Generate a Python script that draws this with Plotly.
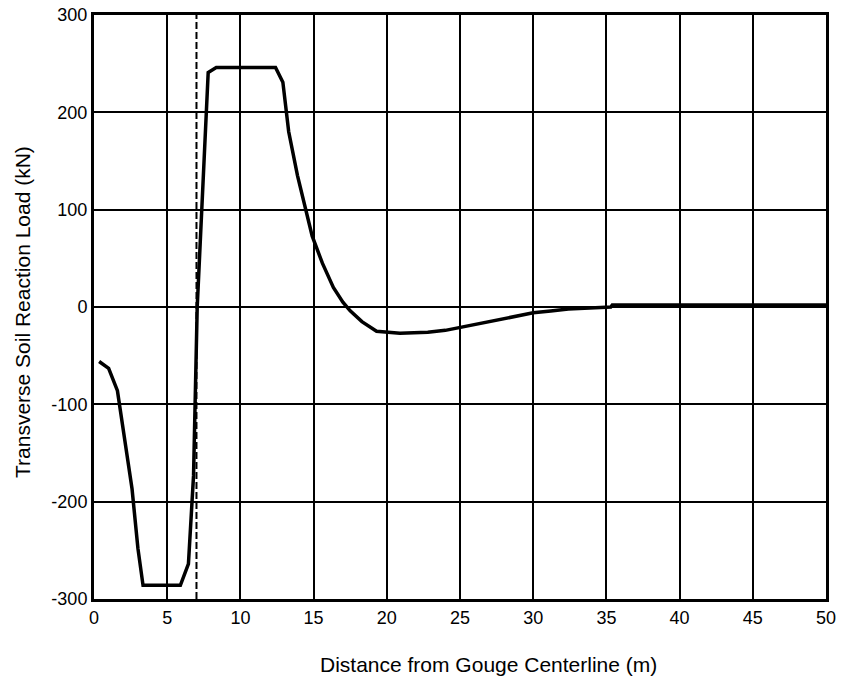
import plotly.graph_objects as go

# Data
distance_m = [0.35, 1.0, 1.6, 2.1, 2.6, 3.0, 3.35, 4.5, 5.9, 6.45, 6.8, 7.05, 7.4, 7.8, 8.35,
              10.0, 12.4, 12.9, 13.3, 13.9, 14.9, 15.6, 16.35, 17.0, 17.5, 18.3, 19.3, 20.9,
              22.8, 24.0, 25.0, 26.0, 27.3, 28.5, 30.0, 31.2, 32.4, 34.6, 35.3, 35.4, 40.0, 45.0, 50.0]
load_kN = [-56, -63, -86, -135, -187, -248, -286, -286, -286, -264, -173, 0, 120, 241, 246,
           246, 246, 231, 180, 135, 73, 45, 20, 5, -4, -15, -25, -27,
           -26, -24, -21, -18, -14, -10, -6, -4, -2, -0.5, 0, 2, 2, 2, 2]
marker_x = 7.0
y_ticks = [-300, -200, -100, 0, 100, 200, 300]
y_tick_labels = ["-300", "-200", "-100", "0", "100", "200", "300"]
x_ticks = [0, 5, 10, 15, 20, 25, 30, 35, 40, 45, 50]
x_title = "Distance from Gouge Centerline (m)"
y_title = "Transverse Soil Reaction Load (kN)"

fig = go.Figure()
fig.add_trace(go.Scatter(x=distance_m, y=load_kN, mode="lines",
                         line=dict(color="black", width=3.5), showlegend=False, cliponaxis=False))
fig.add_trace(go.Scatter(x=[marker_x, marker_x], y=[-300, 300], mode="lines",
                         line=dict(color="black", width=2, dash="7px,3px"), showlegend=False))

tick_font = dict(family="Liberation Sans, Arial", size=18, color="black")
title_font = dict(family="Liberation Sans, Arial", size=21, color="black")
axis_common = dict(showline=True, linecolor="black", linewidth=3, mirror=True,
                   showgrid=True, gridcolor="black", gridwidth=1.6, zeroline=False,
                   ticks="", tickfont=tick_font, automargin=False,
                   ticklabeloverflow="allow")

fig.update_layout(
    template="none",
    width=842, height=683,
    margin=dict(l=94, r=16, t=15, b=84),
    paper_bgcolor="white", plot_bgcolor="white",
    showlegend=False,
    xaxis=dict(range=[0, 50], tickvals=x_ticks, **axis_common),
    yaxis=dict(range=[-300, 300], tickvals=y_ticks, ticktext=y_tick_labels, **axis_common),
    annotations=[
        dict(text=x_title, xref="paper", yref="paper", x=0.5396, y=-0.113,
             showarrow=False, font=title_font, xanchor="center", yanchor="middle"),
        dict(text=y_title, xref="paper", yref="paper", x=-0.0984, y=0.4914,
             showarrow=False, font=title_font, textangle=-90, xanchor="center", yanchor="middle"),
    ],
)
fig.write_html("out.html", config={"displayModeBar": False},
               post_script="document.body.style.margin='0';document.body.style.overflow='hidden';")
